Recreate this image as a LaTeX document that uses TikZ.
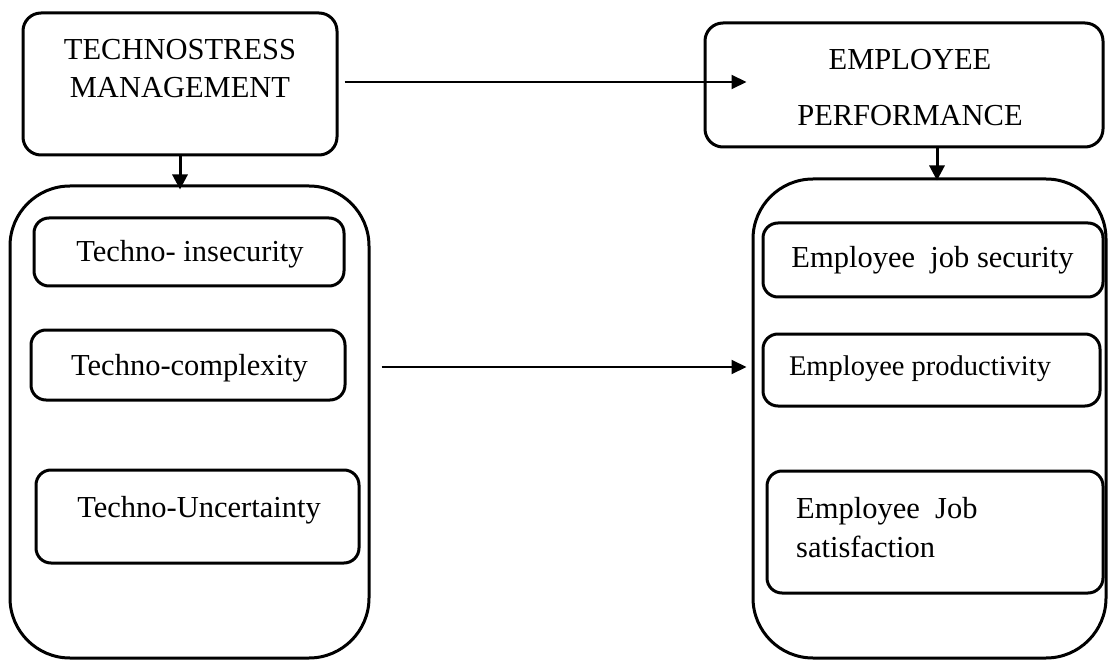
\documentclass[tikz,border=0pt]{standalone}
\usepackage{fontspec}
\setmainfont{Liberation Serif}
\usetikzlibrary{arrows.meta,calc}
\begin{document}
\begin{tikzpicture}[x=1pt,y=-1pt,
  box/.style={draw, line width=3pt, rounded corners=#1, inner sep=0pt},
  box/.default=18pt,
  txt/.style={font=\fontsize{30.5}{36}\selectfont, inner sep=0pt, anchor=base},
  arr/.style={line width=2pt, -{Triangle[length=15pt,width=14pt]}},
  arrv/.style={line width=3pt, -{Triangle[length=15pt,width=15pt]}}
]
\useasboundingbox (0,0) rectangle (1108,660);

% top boxes
\node[box, minimum width=314pt, minimum height=142pt] (tm) at (180,84) {};
\node[txt] (tm1) at (180,60) {TECHNOSTRESS};
\node[txt] (tm2) at (180,98) {MANAGEMENT};

\node[box, minimum width=398pt, minimum height=124pt] (ep) at (904,85) {};
\node[txt] (ep1) at (910,70) {EMPLOYEE};
\node[txt] (ep2) at (910,126) {PERFORMANCE};

% big boxes
\node[box=60pt, minimum width=359pt, minimum height=472pt] (lb) at (189.5,422) {};
\node[box=60pt, minimum width=353pt, minimum height=479pt] (rb) at (929.5,418.5) {};

% left inner boxes
\node[box=15pt, minimum width=310pt, minimum height=68pt] (L1) at (189,252) {};
\node[txt] (L1t) at (190,262) {Techno- insecurity};
\node[box=15pt, minimum width=314pt, minimum height=70pt] (L2) at (188,365) {};
\node[txt] (L2t) at (189.5,375) {Techno-complexity};
\node[box=15pt, minimum width=323pt, minimum height=93pt] (L3) at (197.5,516.5) {};
\node[txt] (L3t) at (199,517) {Techno-Uncertainty};

% right inner boxes
\node[box=15pt, minimum width=340pt, minimum height=74pt] (R1) at (933,260) {};
\node[txt] (R1t) at (932.5,268) {Employee\ \ job security};
\node[box=15pt, minimum width=337pt, minimum height=72pt] (R2) at (931.5,370) {};
\node[txt, font=\fontsize{28.5}{34}\selectfont] (R2t) at (920,375) {Employee\ productivity};
\node[box=15pt, minimum width=336pt, minimum height=122pt] (R3) at (935,532) {};
\node[txt, anchor=base west] (R3a) at (796,518) {Employee\ \ Job};
\node[txt, anchor=base west] (R3b) at (796,557) {satisfaction};

% connectors
\coordinate (a1) at ([shift={(6pt,2pt)}]tm.east);
\coordinate (a1e) at ([xshift=43pt]ep.west);
\draw[arr] (a1) -- (a1 -| a1e);

\coordinate (a2) at (tm.south |- lb.north);
\draw[arrv] (tm.south) -- ([yshift=-5pt]a2);

\coordinate (a3) at ([xshift=33pt]ep.south);
\coordinate (a3e) at (a3 |- rb.north);
\draw[arrv] (a3) -- ([yshift=-3pt]a3e);

\coordinate (m1) at ($(lb.east |- L2.center)+(11pt,-2pt)$);
\coordinate (m2) at ($(rb.west |- L2.center)+(-5pt,-2pt)$);
\draw[arr] (m1) -- (m2);
\end{tikzpicture}
\end{document}
